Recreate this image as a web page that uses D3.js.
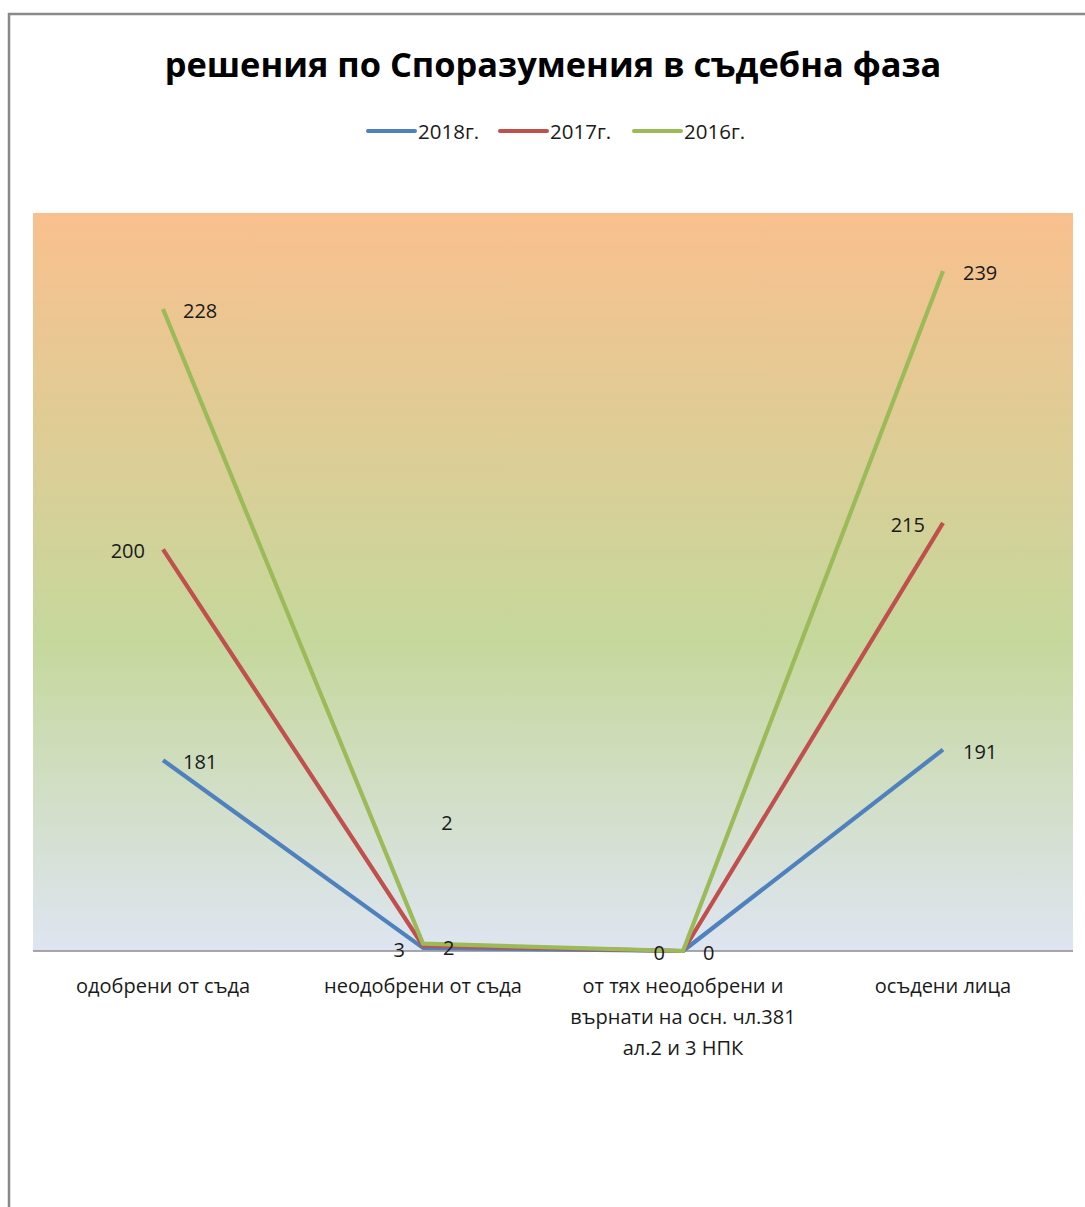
<!DOCTYPE html>
<html><head><meta charset="utf-8">
<script src="https://cdn.jsdelivr.net/npm/d3@7"></script>
<style>html,body{margin:0;padding:0;background:#fff;}svg{display:block;}</style>
</head><body>
<script>
const categories = ["одобрени от съда", "неодобрени от съда", "от тях неодобрени и върнати на осн. чл.381 ал.2 и 3 НПК", "осъдени лица"];
const categoryLines = [["одобрени от съда"], ["неодобрени от съда"], ["от тях неодобрени и", "върнати на осн. чл.381", "ал.2 и 3 НПК"], ["осъдени лица"]];
const seriesNames = ["2018г.", "2017г.", "2016г."];
const values2018 = [181, 3, 0, 191];
const values2017 = [200, 2, 0, 215];
const values2016 = [228, 2, 0, 239];
const yMax = 700;
// label placement per point: r = right, l = left, u = raised
const labelPos2018 = ["r", "l", "n", "r"];
const labelPos2017 = ["l", "r", "l", "l"];
const labelPos2016 = ["r", "u", "r", "r"];

const W = 1085, H = 1207;
const colors = ["#4F81BD", "#C0504D", "#9BBB59"];
const svg = d3.select("body").append("svg").attr("width", W).attr("height", H);
const font = "'Open Sans', 'Noto Sans', sans-serif";

// frame
svg.append("path").attr("d", "M9,1207 L9,14 L1085,14").attr("fill", "none").attr("stroke", "#898989").attr("stroke-width", 2.5);

const plot = {x0: 33, x1: 1073, y0: 213, y1: 951};
const defs = svg.append("defs");
const grad = defs.append("linearGradient").attr("id", "bg").attr("x1", 0).attr("y1", 0).attr("x2", 0).attr("y2", 1);
grad.append("stop").attr("offset", "0%").attr("stop-color", "#F9C08E");
grad.append("stop").attr("offset", "58%").attr("stop-color", "#C5D89C");
grad.append("stop").attr("offset", "100%").attr("stop-color", "#DEE5F1");
svg.append("rect").attr("x", plot.x0).attr("y", plot.y0).attr("width", plot.x1 - plot.x0).attr("height", plot.y1 - plot.y0).attr("fill", "url(#bg)");

const x = d3.scaleBand().domain(categories).range([plot.x0, plot.x1]);
const y = d3.scaleLinear().domain([0, yMax]).range([plot.y1, plot.y0]);

// axis
svg.append("line").attr("x1", plot.x0).attr("x2", plot.x1).attr("y1", plot.y1).attr("y2", plot.y1).attr("stroke", "#8c8c8c").attr("stroke-width", 1.5);

// stacked
const series = [values2018, values2017, values2016];
const labelPos = [labelPos2018, labelPos2017, labelPos2016];
const cum = categories.map(() => 0);
const stacked = series.map(vals => vals.map((v, i) => (cum[i] += v)));

const line = d3.line().x((d, i) => x(categories[i]) + x.bandwidth() / 2).y(d => y(d));
stacked.forEach((s, k) => {
  svg.append("path").datum(s).attr("d", line).attr("fill", "none").attr("stroke", colors[k]).attr("stroke-width", 4.2).attr("stroke-linejoin", "round");
});

// labels
series.forEach((vals, k) => {
  vals.forEach((v, i) => {
    const p = labelPos[k][i];
    if (p === "n") return;
    const cx = x(categories[i]) + x.bandwidth() / 2;
    let ty = y(stacked[k][i]) + 2;
    let tx = cx, anchor = "start";
    if (p === "r") { tx = cx + 20; anchor = "start"; }
    if (p === "l") { tx = cx - 18; anchor = "end"; }
    if (p === "u") { tx = cx + 24; anchor = "middle"; ty = y(stacked[k][i]) - 121; }
    svg.append("text").attr("x", tx).attr("y", ty).attr("dy", "0.35em").attr("text-anchor", anchor)
      .attr("font-family", font).attr("font-size", 20).attr("fill", "#1a1a1a").text(v);
  });
});

// x labels
categoryLines.forEach((lines, i) => {
  const cx = x(categories[i]) + x.bandwidth() / 2;
  lines.forEach((t, j) => {
    svg.append("text").attr("x", cx).attr("y", 993 + j * 31).attr("text-anchor", "middle")
      .attr("font-family", font).attr("font-size", 20).attr("fill", "#1a1a1a").text(t);
  });
});

// title
svg.append("text").attr("x", 553).attr("y", 77).attr("text-anchor", "middle").attr("font-family", font)
  .attr("font-weight", "bold").attr("font-size", 34.4).attr("fill", "#000").text("решения по Споразумения в съдебна фаза");

// legend
const legendX = [368, 500, 634];
seriesNames.forEach((n, k) => {
  const lx = legendX[k];
  svg.append("line").attr("x1", lx).attr("x2", lx + 47).attr("y1", 131).attr("y2", 131).attr("stroke", colors[k]).attr("stroke-width", 4).attr("stroke-linecap", "round");
  svg.append("text").attr("x", lx + 50).attr("y", 132).attr("dy", "0.35em").attr("font-family", font).attr("font-size", 20.5).attr("fill", "#1a1a1a").text(n);
});
</script>
</body></html>
